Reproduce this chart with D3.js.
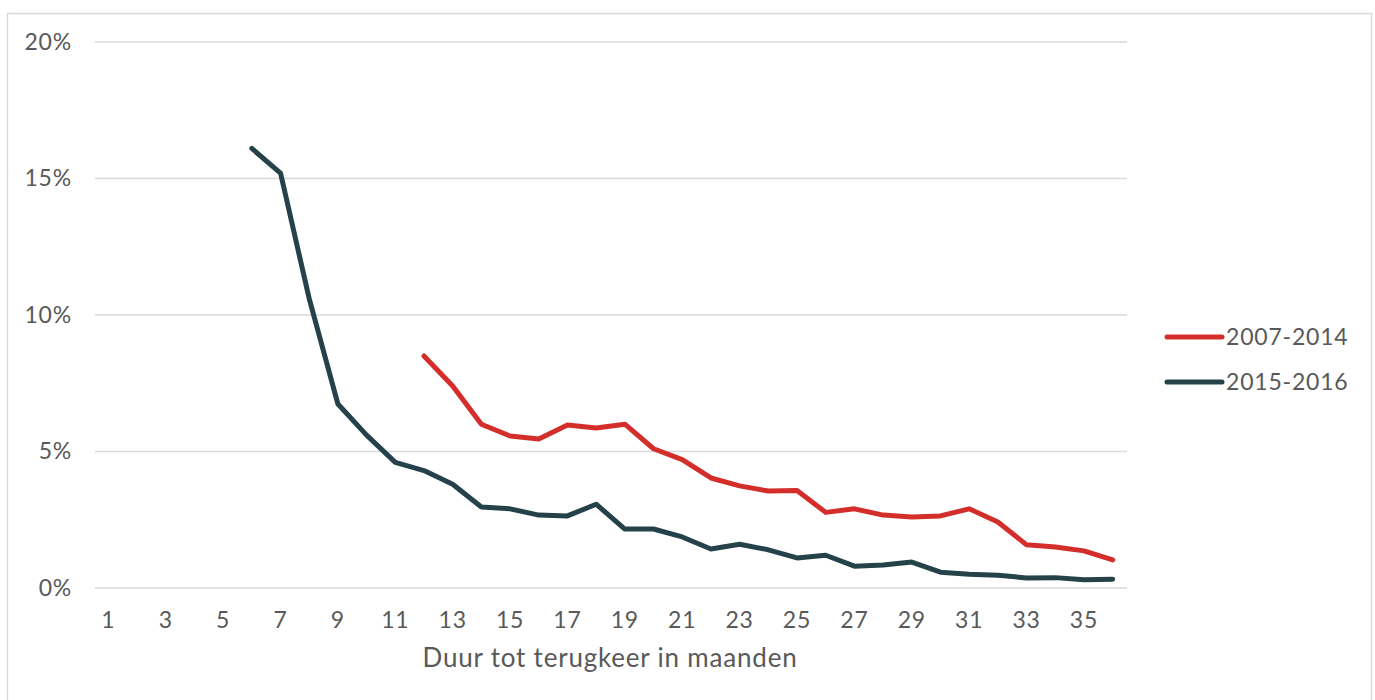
<!DOCTYPE html>
<html>
<head>
<meta charset="utf-8">
<script src="https://cdn.jsdelivr.net/npm/d3@7"></script>
<style>
  body { margin: 0; background: #fff; }
  text { font-family: Lato, "Open Sans", sans-serif; fill: #595959; }
</style>
</head>
<body>
<svg width="1375" height="700"></svg>
<script>
// months 1..36
let months = d3.range(1, 37);

// share returning per month, in %; null = no value
let series2007 = [null, null, null, null, null, null, null, null, null, null, null,
  8.5, 7.4, 6.0, 5.57, 5.46, 5.97, 5.86, 6.0, 5.1, 4.7, 4.03, 3.74, 3.55, 3.57,
  2.77, 2.9, 2.67, 2.6, 2.64, 2.9, 2.42, 1.58, 1.5, 1.36, 1.03];

let series2015 = [null, null, null, null, null,
  16.1, 15.2, 10.6, 6.74, 5.6, 4.6, 4.3, 3.8, 2.97, 2.9, 2.67, 2.64, 3.07, 2.16,
  2.16, 1.87, 1.43, 1.6, 1.4, 1.1, 1.2, 0.8, 0.84, 0.95, 0.58, 0.5, 0.47, 0.37,
  0.38, 0.3, 0.32];

let yTicks = [0, 5, 10, 15, 20];
let seriesNames = ["2007-2014", "2015-2016"];
let seriesColors = ["#d42e2b", "#25424a"];

let svg = d3.select("svg");

// outer frame
svg.append("rect")
  .attr("x", 7.5).attr("y", 13.5)
  .attr("width", 1364).attr("height", 700)
  .attr("fill", "none")
  .attr("stroke", "#d9d9d9")
  .attr("stroke-width", 1.5);

let plotLeft = 94, plotRight = 1127, plotTop = 42, plotBottom = 588;

let xScale = d3.scaleBand()
  .domain(months)
  .range([plotLeft, plotRight]);

let yScale = d3.scaleLinear()
  .domain([0, 20])
  .range([plotBottom, plotTop]);

// gridlines
svg.append("g")
  .selectAll("line")
  .data(yTicks)
  .enter()
  .append("line")
  .attr("x1", 95).attr("x2", 1127)
  .attr("y1", d => yScale(d)).attr("y2", d => yScale(d))
  .attr("stroke", "#d9d9d9")
  .attr("stroke-width", 1.5);

// y axis labels
let yAxis = d3.axisLeft(yScale)
  .tickValues(yTicks)
  .tickFormat(d => d + "%")
  .tickSize(0)
  .tickPadding(0);

svg.append("g")
  .attr("transform", "translate(72,0)")
  .call(yAxis)
  .call(g => g.select(".domain").remove())
  .selectAll("text")
  .attr("font-size", 23)
  .attr("letter-spacing", 0.8)
  .style("font-family", "Lato, sans-serif")
  .attr("fill", "#595959");

// x axis labels
let xAxis = d3.axisBottom(xScale)
  .tickValues(months.filter(m => m % 2 === 1))
  .tickSize(0)
  .tickPadding(0);

svg.append("g")
  .attr("transform", "translate(0,612)")
  .call(xAxis)
  .call(g => g.select(".domain").remove())
  .selectAll("text")
  .attr("font-size", 23)
  .attr("letter-spacing", 0.8)
  .style("font-family", "Lato, sans-serif")
  .attr("fill", "#595959");

svg.append("text")
  .attr("x", 610)
  .attr("y", 667)
  .attr("text-anchor", "middle")
  .attr("font-size", 26)
  .attr("letter-spacing", 0.8)
  .text("Duur tot terugkeer in maanden");

let line = d3.line()
  .defined(d => d.v !== null)
  .x(d => xScale(d.m) + xScale.bandwidth() / 2)
  .y(d => yScale(d.v));

[series2007, series2015].forEach((s, i) => {
  let pts = months.map((m, j) => ({ m: m, v: s[j] }));
  svg.append("path")
    .datum(pts)
    .attr("d", line)
    .attr("fill", "none")
    .attr("stroke", seriesColors[i])
    .attr("stroke-width", 5)
    .attr("stroke-linecap", "round")
    .attr("stroke-linejoin", "round");
});

// legend
let legend = svg.append("g")
  .selectAll("g")
  .data(seriesNames)
  .enter()
  .append("g")
  .attr("transform", (d, i) => "translate(1167," + (337 + i * 45) + ")");

legend.append("line")
  .attr("x1", 0).attr("x2", 55)
  .attr("stroke", (d, i) => seriesColors[i])
  .attr("stroke-width", 5)
  .attr("stroke-linecap", "round");

legend.append("text")
  .attr("x", 59)
  .attr("y", 8)
  .attr("font-size", 23)
  .attr("letter-spacing", 0.8)
  .text(d => d);
</script>
</body>
</html>
